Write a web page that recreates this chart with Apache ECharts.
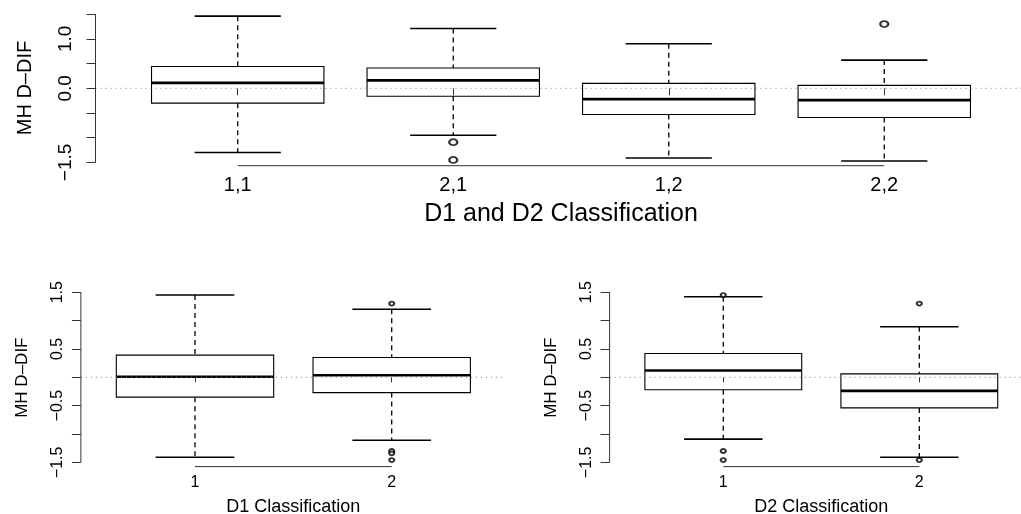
<!DOCTYPE html>
<html>
<head>
<meta charset="utf-8">
<script src="https://cdn.jsdelivr.net/npm/echarts@6/dist/echarts.min.js"></script>
<style>html,body{margin:0;padding:0;background:#fff}#c{width:1021px;height:514px}</style>
</head>
<body>
<div id="c"></div>
<script>
// ---------- data ----------
const topCats = ['1,1', '2,1', '1,2', '2,2'];
const topLow  = [-1.30, -0.95, -1.41, -1.47];
const topQ1   = [-0.30, -0.16, -0.53, -0.59];
const topMed  = [ 0.11,  0.16, -0.22, -0.24];
const topQ3   = [ 0.44,  0.41,  0.10,  0.06];
const topHigh = [ 1.46,  1.21,  0.90,  0.57];
const topOutCat = [2, 2, 4];
const topOutVal = [-1.09, -1.45, 1.30];

const d1Cats = ['1', '2'];
const d1Low  = [-1.41, -1.11];
const d1Q1   = [-0.35, -0.27];
const d1Med  = [ 0.01,  0.035];
const d1Q3   = [ 0.39,  0.35];
const d1High = [ 1.45,  1.20];
const d1OutCat = [2, 2, 2, 2];
const d1OutVal = [1.30, -1.30, -1.34, -1.46];

const d2Cats = ['1', '2'];
const d2Low  = [-1.09, -1.41];
const d2Q1   = [-0.22, -0.54];
const d2Med  = [ 0.12, -0.24];
const d2Q3   = [ 0.42,  0.06];
const d2High = [ 1.42,  0.89];
const d2OutCat = [1, 1, 1, 2, 2];
const d2OutVal = [1.45, -1.30, -1.46, 1.30, -1.46];

const topYTicks = [-1.5, -1.0, -0.5, 0.0, 0.5, 1.0, 1.5];
const topYLabels = [-1.5, 0.0, 1.0];
const botYTicks = [-1.5, -1.0, -0.5, 0.0, 0.5, 1.0, 1.5];
const botYLabels = [-1.5, -0.5, 0.5, 1.5];

const topXRange = [0.34, 4.66];
const topYRange = [-1.566, 1.576];
const botXRange = [0.42, 2.58];
const botYRange = [-1.575, 1.562];

// ---------- helpers ----------
const FONT = 'Liberation Sans, Arial, Helvetica, sans-serif';
const fmtY = v => (v < 0 ? '\u2212' : '') + Math.abs(v).toFixed(1);

function boxData(low, q1, med, q3, high) {
  return low.map((l, i) => [i + 1, l, q1[i], med[i], q3[i], high[i]]);
}

function renderBox(params, api) {
  const x = api.value(0);
  const pLo = api.coord([x, api.value(1)]);
  const pQ1 = api.coord([x, api.value(2)]);
  const pMd = api.coord([x, api.value(3)]);
  const pQ3 = api.coord([x, api.value(4)]);
  const pHi = api.coord([x, api.value(5)]);
  const half = api.size([0.4, 0])[0];
  const cap = api.size([0.2, 0])[0];
  const cx = pMd[0];
  const dash = {stroke: '#000', lineWidth: 1.3, lineDash: [5, 4], fill: null};
  const solid = {stroke: '#000', lineWidth: 1.6, fill: null};
  return {
    type: 'group',
    children: [
      {type: 'line', shape: {x1: cx, y1: pHi[1], x2: cx, y2: pQ3[1]}, style: dash},
      {type: 'line', shape: {x1: cx, y1: pQ1[1], x2: cx, y2: pLo[1]}, style: dash},
      {type: 'line', shape: {x1: cx - cap, y1: pHi[1], x2: cx + cap, y2: pHi[1]}, style: solid},
      {type: 'line', shape: {x1: cx - cap, y1: pLo[1], x2: cx + cap, y2: pLo[1]}, style: solid},
      {type: 'rect', shape: {x: cx - half, y: pQ3[1], width: 2 * half, height: pQ1[1] - pQ3[1]},
        style: {fill: 'none', stroke: '#000', lineWidth: 1.1}},
      {type: 'line', shape: {x1: cx - half, y1: pMd[1], x2: cx + half, y2: pMd[1]},
        style: {stroke: '#000', lineWidth: 2.6}}
    ]
  };
}

function panelSeries(idx, cats, low, q1, med, q3, high, outCat, outVal, xr, yr, yTicks, symSize) {
  const n = cats.length;
  const axisStyle = {color: '#333', width: 1};
  return [
    {
      type: 'custom', xAxisIndex: idx, yAxisIndex: idx, silent: true, z: 2,
      renderItem: renderBox,
      encode: {x: 0, y: [1, 2, 3, 4, 5]},
      data: boxData(low, q1, med, q3, high)
    },
    {
      type: 'scatter', xAxisIndex: idx, yAxisIndex: idx, silent: true, z: 3,
      symbol: 'emptyCircle', symbolSize: symSize,
      itemStyle: {color: '#000', borderColor: '#000', borderWidth: 0.8},
      data: outCat.map((c, i) => [c, outVal[i]])
    },
    { // zero reference line
      type: 'line', xAxisIndex: idx, yAxisIndex: idx, silent: true, z: 4,
      symbol: 'none', clip: true,
      lineStyle: {color: '#808080', width: 1, type: [1, 4]},
      data: [[xr[0], 0], [xr[1], 0]]
    },
    { // x axis line between first and last category
      type: 'line', xAxisIndex: idx, yAxisIndex: idx, silent: true, z: 5,
      symbol: 'none', clip: false, lineStyle: axisStyle,
      data: [[1, yr[0]], [n, yr[0]]]
    },
    { // y axis line between first and last tick
      type: 'line', xAxisIndex: idx, yAxisIndex: idx, silent: true, z: 5,
      symbol: 'none', clip: false, lineStyle: axisStyle,
      data: [[xr[0], yTicks[0]], [xr[0], yTicks[yTicks.length - 1]]]
    }
  ];
}

function xAxisDef(idx, cats, xr, name, fs, nfs, tickLen, margin, nameGap) {
  const vals = cats.map((c, i) => i + 1);
  return {
    type: 'value', gridIndex: idx, min: xr[0], max: xr[1],
    axisLine: {show: false},
    splitLine: {show: false},
    axisTick: {show: true, customValues: vals, length: tickLen, lineStyle: {color: '#333'}},
    axisLabel: {show: true, customValues: vals, formatter: v => cats[Math.round(v) - 1],
      fontFamily: FONT, fontSize: fs, color: '#000', margin: margin},
    name: name, nameLocation: 'middle', nameGap: nameGap,
    nameTextStyle: {fontFamily: FONT, fontSize: nfs, color: '#000'}
  };
}

function yAxisDef(idx, yr, ticks, labels, fs, nfs, margin, nameGap) {
  return {
    type: 'value', gridIndex: idx, min: yr[0], max: yr[1],
    axisLine: {show: false},
    splitLine: {show: false},
    axisTick: {show: true, customValues: ticks, length: 9, lineStyle: {color: '#333'}},
    axisLabel: {show: true, customValues: labels, formatter: fmtY, rotate: 90,
      fontFamily: FONT, fontSize: fs, color: '#000', margin: margin},
    name: 'MH D\u2013DIF', nameLocation: 'middle', nameGap: nameGap, nameRotate: 90,
    nameTextStyle: {fontFamily: FONT, fontSize: nfs, color: '#000'}
  };
}

const chart = echarts.init(document.getElementById('c'), null, {renderer: 'canvas'});
chart.setOption({
  animation: false,
  backgroundColor: '#fff',
  grid: [
    {left: 95.5, top: 10.4, width: 931, height: 155.3, outerBoundsMode: 'none', containLabel: false},
    {left: 80.9, top: 288.7, width: 424.9, height: 177.9, outerBoundsMode: 'none', containLabel: false},
    {left: 609.6, top: 288.7, width: 423.4, height: 177.9, outerBoundsMode: 'none', containLabel: false}
  ],
  xAxis: [
    xAxisDef(0, topCats, topXRange, 'D1 and D2 Classification', 20, 25, 7, 10, 36),
    xAxisDef(1, d1Cats, botXRange, 'D1 Classification', 16, 18, 5, 8, 31),
    xAxisDef(2, d2Cats, botXRange, 'D2 Classification', 16, 18, 5, 8, 31)
  ],
  yAxis: [
    yAxisDef(0, topYRange, topYTicks, topYLabels, 19, 20, 20, 60),
    yAxisDef(1, botYRange, botYTicks, botYLabels, 16, 17, 15, 50),
    yAxisDef(2, botYRange, botYTicks, botYLabels, 16, 17, 15, 50)
  ],
  series: [].concat(
    panelSeries(0, topCats, topLow, topQ1, topMed, topQ3, topHigh, topOutCat, topOutVal, topXRange, topYRange, topYTicks, [8, 6]),
    panelSeries(1, d1Cats, d1Low, d1Q1, d1Med, d1Q3, d1High, d1OutCat, d1OutVal, botXRange, botYRange, botYTicks, [5, 4]),
    panelSeries(2, d2Cats, d2Low, d2Q1, d2Med, d2Q3, d2High, d2OutCat, d2OutVal, botXRange, botYRange, botYTicks, [5, 4])
  )
});
</script>
</body>
</html>
